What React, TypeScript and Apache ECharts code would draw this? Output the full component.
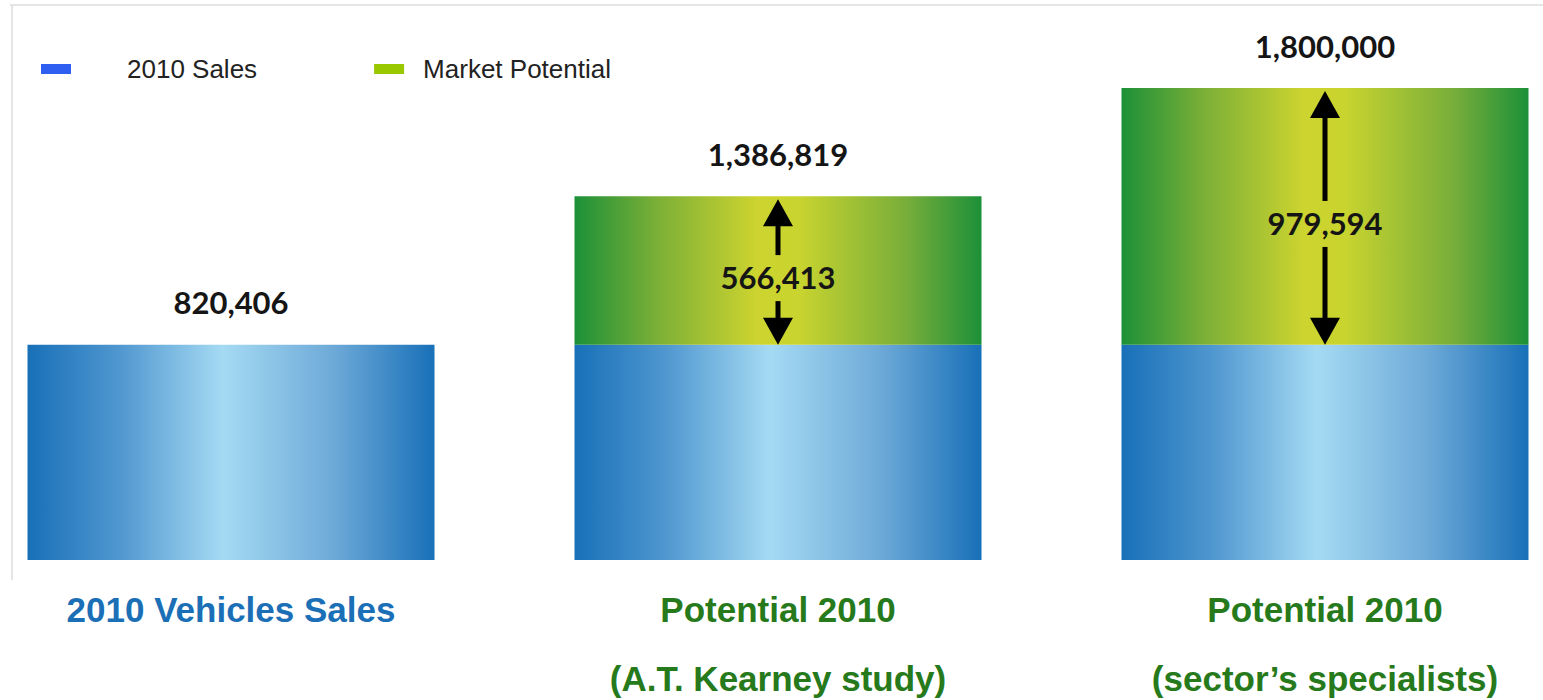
import React, { useEffect, useRef } from "react";
import * as echarts from "echarts";

const categories = [
  "2010 Vehicles Sales",
  "Potential 2010\n(A.T. Kearney study)",
  "Potential 2010\n(sector’s specialists)",
];
const salesValues = [820406, 820406, 820406];
const potentialValues: (number | null)[] = [null, 566413, 979594];
const legendNames = ["2010 Sales", "Market Potential"];
const yMax = 1800000;

const fmt = (v: number) => v.toLocaleString("en-US");

export default function App() {
  const ref = useRef<HTMLDivElement>(null);
  useEffect(() => {
    document.body.style.margin = "0";
    if (!ref.current) return;
    const chart = echarts.init(ref.current, undefined, { renderer: "svg" });

    const totals = salesValues.map((s, i) => s + (potentialValues[i] ?? 0));

    const blueGrad = new echarts.graphic.LinearGradient(0, 0, 1, 0, [
      { offset: 0, color: "#1870b8" },
      { offset: 0.22, color: "#4e96cf" },
      { offset: 0.48, color: "#a5daf3" },
      { offset: 0.75, color: "#6eaad8" },
      { offset: 1, color: "#1870b8" },
    ]);
    const greenGrad = new echarts.graphic.LinearGradient(0, 0, 1, 0, [
      { offset: 0, color: "#1c9038" },
      { offset: 0.2, color: "#7aaf37" },
      { offset: 0.45, color: "#cdd42f" },
      { offset: 0.55, color: "#c9d42f" },
      { offset: 0.82, color: "#76ad3a" },
      { offset: 1, color: "#1c9038" },
    ]);

    const numberLabel = {
      show: true,
      position: "top",
      distance: 27,
      fontFamily: "Lato",
      fontWeight: "bold",
      fontSize: 31,
      color: "#151515",
    };

    const salesData = salesValues.map((v, i) =>
      potentialValues[i] == null
        ? { value: v, label: { ...numberLabel, formatter: () => fmt(totals[i]) } }
        : { value: v }
    );
    const potentialData = potentialValues.map((v, i) =>
      v == null
        ? "-"
        : { value: v, label: { ...numberLabel, formatter: () => fmt(totals[i]) } }
    );

    const arrowData = potentialValues
      .map((v, i) => (v == null ? null : [i, salesValues[i], totals[i], v]))
      .filter((d) => d != null);

    chart.setOption({
      animation: false,
      legend: {
        left: 36,
        top: 51,
        icon: "rect",
        itemWidth: 30,
        itemHeight: 10,
        itemGap: 117,
        data: [
          { name: legendNames[0], itemStyle: { color: "#2f5ff0" } },
          { name: legendNames[1], itemStyle: { color: "#99c800" } },
        ],
        formatter: (name: string) =>
          name === legendNames[0] ? `{a|${name}}` : `{b|${name}}`,
        textStyle: {
          fontFamily: "Liberation Sans",
          fontSize: 26,
          color: "#222",
          rich: {
            a: { fontFamily: "Liberation Sans", fontSize: 26, color: "#222", padding: [0, 0, 0, 51] },
            b: { fontFamily: "Liberation Sans", fontSize: 26, color: "#222", padding: [0, 0, 0, 14] },
          },
        },
      },
      grid: { left: 231, right: 218, top: 88, bottom: 140, containLabel: false },
      xAxis: {
        type: "category",
        data: categories,
        boundaryGap: false,
        axisLine: { show: false },
        axisTick: { show: false },
        splitLine: { show: false },
        axisLabel: {
          margin: 15,
          interval: 0,
          formatter: (val: string, idx: number) =>
            val
              .split("\n")
              .map((s) => (idx === 0 ? `{b|${s}}` : `{g|${s}}`))
              .join("\n"),
          rich: {
            b: {
              fontFamily: "Liberation Sans",
              fontWeight: "bold",
              fontSize: 35,
              color: "#1b6fb6",
              lineHeight: 69,
            },
            g: {
              fontFamily: "Liberation Sans",
              fontWeight: "bold",
              fontSize: 35,
              color: "#267a1c",
              lineHeight: 69,
            },
          },
        },
      },
      yAxis: {
        type: "value",
        min: 0,
        max: yMax,
        show: false,
        splitLine: { show: false },
      },
      series: [
        {
          name: legendNames[0],
          type: "bar",
          stack: "total",
          barWidth: 407,
          clip: false,
          data: salesData,
          itemStyle: { color: blueGrad },
        },
        {
          name: legendNames[1],
          type: "bar",
          stack: "total",
          barWidth: 407,
          clip: false,
          data: potentialData,
          itemStyle: { color: greenGrad },
        },
        {
          type: "custom",
          z: 10,
          silent: true,
          clip: false,
          encode: { x: 0, y: 2 },
          data: arrowData,
          renderItem: (params: any, api: any) => {
            const idx = api.value(0);
            const base = api.value(1);
            const total = api.value(2);
            const diff = api.value(3);
            const top = api.coord([idx, total]);
            const bot = api.coord([idx, base]);
            const x = top[0];
            const t = top[1] + 3;
            const b = bot[1];
            const mid = (t + b) / 2 + 5;
            const hw = 15;
            const hh = 27;
            const lw = 5;
            return {
              type: "group",
              children: [
                {
                  type: "polygon",
                  shape: { points: [[x - hw, t + hh], [x, t], [x + hw, t + hh]] },
                  style: { fill: "#000" },
                },
                {
                  type: "line",
                  shape: { x1: x, y1: t + hh - 2, x2: x, y2: mid - 22 },
                  style: { stroke: "#000", lineWidth: lw },
                },
                {
                  type: "line",
                  shape: { x1: x, y1: mid + 24, x2: x, y2: b - hh + 2 },
                  style: { stroke: "#000", lineWidth: lw },
                },
                {
                  type: "polygon",
                  shape: { points: [[x - hw, b - hh], [x, b], [x + hw, b - hh]] },
                  style: { fill: "#000" },
                },
                {
                  type: "text",
                  x: x,
                  y: mid,
                  style: {
                    text: fmt(diff),
                    textAlign: "center",
                    textVerticalAlign: "middle",
                    fontFamily: "Lato",
                    fontWeight: "bold",
                    fontSize: 31,
                    fill: "#151515",
                  },
                },
              ],
            };
          },
        },
      ],
      graphic: [
        {
          type: "line",
          shape: { x1: 10, y1: 5, x2: 1543, y2: 5 },
          style: { stroke: "#dcdcdc", lineWidth: 1.5 },
          silent: true,
        },
        {
          type: "line",
          shape: { x1: 12, y1: 5, x2: 12, y2: 580 },
          style: { stroke: "#dcdcdc", lineWidth: 1.5 },
          silent: true,
        },
      ],
    });

    return () => chart.dispose();
  }, []);

  return <div ref={ref} style={{ width: 1543, height: 700 }} />;
}
